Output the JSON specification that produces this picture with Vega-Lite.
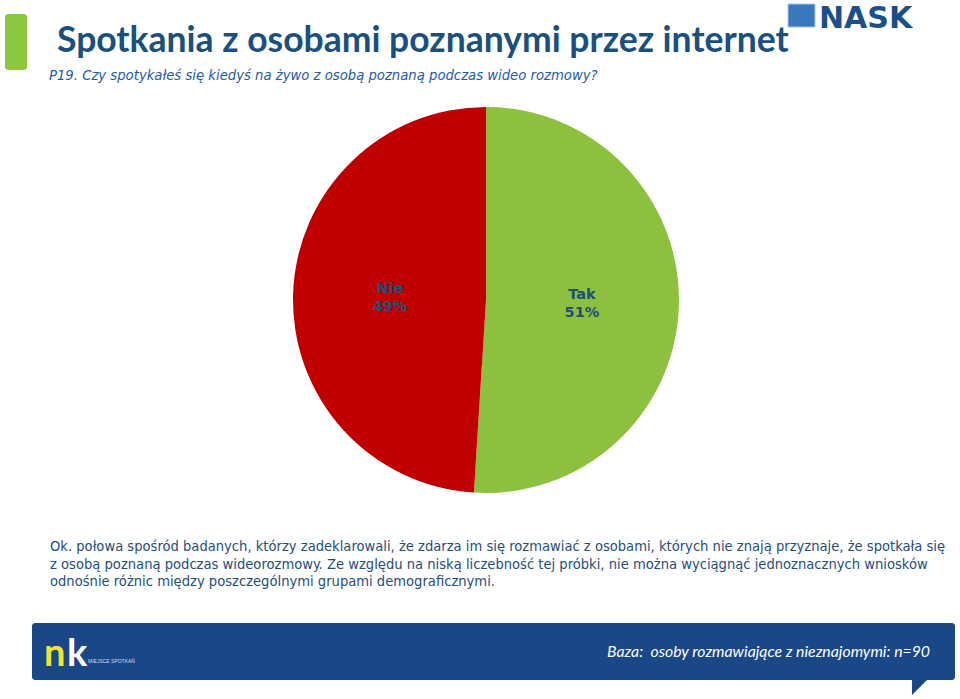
{
  "$schema": "https://vega.github.io/schema/vega-lite/v6.json",
  "width": 960,
  "height": 699,
  "autosize": {"type": "fit", "contains": "padding"},
  "padding": 0,
  "background": "#ffffff",
  "config": {"view": {"stroke": null}},
  "layer": [
    {
      "data": {"values": [
        {"odpowiedz": "Tak", "procent": 51, "kolejnosc": 1, "etykieta": "Tak\n51%"},
        {"odpowiedz": "Nie", "procent": 49, "kolejnosc": 2, "etykieta": "Nie\n49%"}
      ]},
      "layer": [
        {
          "mark": {"type": "arc", "outerRadius": 193},
          "encoding": {
            "x": {"value": 486},
            "y": {"value": 300},
            "theta": {"field": "procent", "type": "quantitative", "stack": true},
            "order": {"field": "kolejnosc", "type": "quantitative"},
            "color": {"field": "odpowiedz", "type": "nominal", "scale": {"domain": ["Tak", "Nie"], "range": ["#8CC03E", "#C00000"]}, "legend": null}
          }
        },
        {
          "mark": {"type": "text", "radius": 96, "dy": -8, "font": "DejaVu Sans", "fontWeight": "bold", "fontSize": 14.5, "lineBreak": "\n", "lineHeight": 18, "align": "center", "baseline": "middle", "color": "#1F4E79"},
          "encoding": {
            "x": {"value": 486},
            "y": {"value": 300},
            "theta": {"field": "procent", "type": "quantitative", "stack": true},
            "order": {"field": "kolejnosc", "type": "quantitative"},
            "text": {"field": "etykieta", "type": "nominal"}
          }
        }
      ]
    },
    {
      "data": {"values": [{}]},
      "layer": [
        {
          "mark": {"type": "rect", "color": "#8DC63F", "cornerRadius": 3},
          "encoding": {"x": {"value": 5}, "x2": {"value": 27}, "y": {"value": 14}, "y2": {"value": 70}}
        },
        {
          "mark": {"type": "text", "font": "Lato", "fontWeight": "bold", "fontSize": 35.5, "align": "left", "baseline": "alphabetic", "color": "#1B4F7E"},
          "encoding": {"x": {"value": 57}, "y": {"value": 52}, "text": {"value": "Spotkania z osobami poznanymi przez internet"}}
        },
        {
          "mark": {"type": "text", "font": "DejaVu Sans Condensed", "fontStyle": "italic", "fontSize": 14.7, "align": "left", "baseline": "alphabetic", "color": "#1F5AA6"},
          "encoding": {"x": {"value": 49}, "y": {"value": 80}, "text": {"value": "P19. Czy spotykałeś się kiedyś na żywo z osobą poznaną podczas wideo rozmowy?"}}
        },
        {
          "mark": {"type": "rect", "color": "#3A78BE", "stroke": "#A9C8EA", "strokeWidth": 1},
          "encoding": {"x": {"value": 788}, "x2": {"value": 815}, "y": {"value": 4}, "y2": {"value": 27}}
        },
        {
          "mark": {"type": "text", "font": "DejaVu Sans", "fontWeight": "bold", "fontSize": 30, "align": "left", "baseline": "alphabetic", "color": "#1B4F8A"},
          "encoding": {"x": {"value": 819}, "y": {"value": 28}, "text": {"value": "NASK"}}
        },
        {
          "mark": {"type": "text", "font": "DejaVu Sans Condensed", "fontSize": 14.6, "align": "left", "baseline": "alphabetic", "lineHeight": 17.5, "color": "#1F4E79"},
          "encoding": {"x": {"value": 50}, "y": {"value": 551}, "text": {"value": [
            "Ok. połowa spośród badanych, którzy zadeklarowali, że zdarza im się rozmawiać z osobami, których nie znają przyznaje, że spotkała się",
            "z osobą poznaną podczas wideorozmowy. Ze względu na niską liczebność tej próbki, nie można wyciągnąć jednoznacznych wniosków",
            "odnośnie różnic między poszczególnymi grupami demograficznymi."
          ]}}
        },
        {
          "mark": {"type": "rect", "color": "#1A4786", "cornerRadius": 3},
          "encoding": {"x": {"value": 32}, "x2": {"value": 955}, "y": {"value": 623}, "y2": {"value": 680}}
        },
        {
          "mark": {"type": "point", "shape": "M-1,-1 L1,-1 L-1,1 Z", "size": 256, "filled": true, "color": "#1A4786", "opacity": 1},
          "encoding": {"x": {"value": 920}, "y": {"value": 687}}
        },
        {
          "mark": {"type": "text", "font": "Lato", "fontWeight": "bold", "fontSize": 38, "align": "left", "baseline": "alphabetic", "color": "#F2E234"},
          "encoding": {"x": {"value": 44}, "y": {"value": 666}, "text": {"value": "n"}}
        },
        {
          "mark": {"type": "text", "font": "Lato", "fontWeight": "bold", "fontSize": 38, "align": "left", "baseline": "alphabetic", "color": "#FFFFFF"},
          "encoding": {"x": {"value": 67}, "y": {"value": 666}, "text": {"value": "k"}}
        },
        {
          "mark": {"type": "text", "font": "Liberation Sans", "fontSize": 5, "align": "left", "baseline": "alphabetic", "color": "#D0DCEE"},
          "encoding": {"x": {"value": 88}, "y": {"value": 663}, "text": {"value": "MIEJSCE SPOTKAŃ"}}
        },
        {
          "mark": {"type": "text", "font": "Lato", "fontStyle": "italic", "fontSize": 15.8, "align": "right", "baseline": "alphabetic", "color": "#FFFFFF"},
          "encoding": {"x": {"value": 930}, "y": {"value": 657}, "text": {"value": "Baza:\u00a0 osoby rozmawiające z nieznajomymi: n=90"}}
        }
      ]
    }
  ]
}
